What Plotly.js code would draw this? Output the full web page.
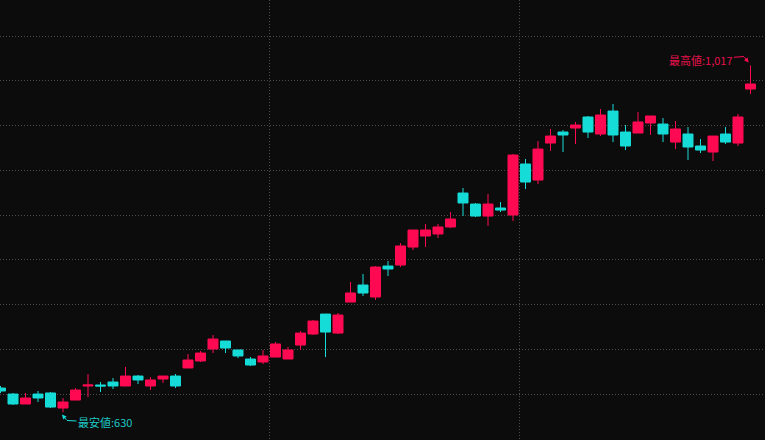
<!DOCTYPE html>
<html>
<head>
<meta charset="utf-8">
<script src="https://cdn.plot.ly/plotly-3.0.1.min.js"></script>
<style>
  html, body { margin: 0; padding: 0; background: #0c0c0c; }
  #chart { width: 765px; height: 440px; }
</style>
</head>
<body>
<div id="chart"></div>
<script>
// ---- data ----
const openP  = [657.0, 650.3, 639.2, 650.3, 651.5, 634.7, 643.6, 659.3, 660.4, 663.7,
                659.3, 670.4, 659.3, 667.1, 670.4, 679.4, 687.2, 700.6, 709.5, 699.5,
                689.4, 686.1, 691.6, 689.4, 705.0, 717.3, 739.6, 718.4, 753.0, 772.0,
                758.6, 793.2, 794.3, 814.4, 826.7, 829.0, 836.8, 874.7, 862.4, 849.0,
                858.0, 850.2, 907.1, 889.2, 930.5, 942.8, 947.3, 959.6, 940.6, 966.2,
                942.8, 941.7, 952.9, 951.7, 931.6, 940.6, 927.2, 920.5, 940.6, 930.5,
                990.8];
const highP  = [659.3, 651.5, 651.5, 653.7, 652.6, 645.9, 657.0, 672.7, 663.7, 668.2,
                680.5, 671.5, 669.3, 670.4, 672.7, 695.0, 698.3, 716.2, 709.5, 699.5,
                691.6, 699.5, 708.4, 702.8, 720.7, 732.9, 739.6, 740.8, 775.4, 784.3,
                793.2, 798.8, 818.9, 833.4, 840.1, 840.1, 853.5, 880.3, 863.6, 873.6,
                864.7, 918.3, 912.7, 932.8, 946.2, 945.0, 954.0, 960.7, 968.5, 974.1,
                950.6, 965.1, 960.7, 958.4, 955.1, 948.4, 935.0, 938.3, 948.4, 962.9,
                1017];
const lowP   = [651.5, 638.1, 639.2, 641.4, 634.7, 630, 643.6, 647.0, 652.6, 655.9,
                659.3, 661.5, 654.8, 662.6, 657.0, 679.4, 686.1, 696.1, 696.1, 690.5,
                681.6, 683.8, 691.6, 689.4, 699.5, 716.2, 691.6, 717.3, 753.0, 759.7,
                755.3, 782.1, 792.1, 811.1, 814.4, 824.5, 835.6, 849.0, 847.9, 837.9,
                853.5, 843.5, 879.2, 884.8, 921.6, 920.5, 929.4, 936.1, 938.3, 931.6,
                922.7, 941.7, 939.5, 931.6, 923.8, 911.6, 919.4, 910.4, 929.4, 927.2,
                985.2];
const closeP = [653.7, 639.2, 645.9, 645.9, 635.8, 641.4, 654.8, 660.4, 659.3, 659.3,
                670.4, 666.0, 666.0, 670.4, 659.3, 688.3, 696.1, 711.7, 701.7, 692.8,
                682.7, 692.8, 706.2, 699.5, 718.4, 731.8, 719.5, 738.5, 763.1, 763.1,
                792.1, 789.9, 815.6, 833.4, 833.4, 836.8, 845.7, 863.6, 849.0, 862.4,
                855.7, 917.1, 887.0, 923.8, 938.3, 939.5, 950.6, 942.8, 961.8, 939.5,
                927.2, 954.0, 960.7, 940.6, 946.2, 926.1, 922.7, 938.3, 931.6, 959.6,
                996.4];
const highLabel = '最高値';
const lowLabel  = '最安値';
const dividerTicks = [21.5, 41.5];

// ---- derived ----
const xIdx = openP.map((_, i) => i);
const maxHigh = Math.max(...highP);
const maxIdx = highP.indexOf(maxHigh);
const minLow = Math.min(...lowP);
const minIdx = lowP.indexOf(minLow);
const fmt = v => String(Math.round(v)).replace(/\B(?=(\d{3})+(?!\d))/g, ',');

const RED = '#ff0a52';
const CYAN = '#16dcd8';
const GRID = '#4c4c4c';
const FONT = 'Noto Sans CJK JP, Noto Sans, sans-serif';

const trace = {
  type: 'candlestick',
  x: xIdx,
  open: openP, high: highP, low: lowP, close: closeP,
  increasing: { line: { color: RED, width: 1 }, fillcolor: RED },
  decreasing: { line: { color: CYAN, width: 1 }, fillcolor: CYAN },
  whiskerwidth: 0,
  hoverinfo: 'skip'
};

// label with a bent leader line: text -> bend (no head), bend -> tip (with head)
function bentLabel(xv, yv, text, color, textColor, bend, tip, textOff) {
  return [
    {
      x: xv, y: yv, xref: 'x', yref: 'y',
      xshift: bend[0], yshift: bend[1],
      text: text, showarrow: true,
      ax: textOff[0], ay: textOff[1],
      arrowhead: 0, arrowwidth: 1, arrowcolor: color,
      font: { family: FONT, size: 11, color: textColor }
    },
    {
      x: xv, y: yv, xref: 'x', yref: 'y',
      xshift: tip[0], yshift: tip[1],
      text: ' ', showarrow: true,
      ax: bend[0] - tip[0], ay: -(bend[1] - tip[1]),
      arrowhead: 2, arrowsize: 0.9, arrowwidth: 1, arrowcolor: color,
      borderpad: 0,
      font: { family: FONT, size: 1, color: color }
    }
  ];
}

const layout = {
  width: 765, height: 440,
  margin: { l: 0, r: 0, t: 0, b: 0, pad: 0 },
  paper_bgcolor: '#0c0c0c',
  plot_bgcolor: '#0c0c0c',
  showlegend: false,
  hovermode: false,
  boxgap: 0.2,
  boxgroupgap: 0,
  xaxis: {
    range: [-0.04, 61.16],
    tickvals: dividerTicks,
    showticklabels: false,
    showgrid: true, gridcolor: GRID, griddash: '1px,2px', gridwidth: 1,
    zeroline: false, showline: false, ticks: '',
    rangeslider: { visible: false }
  },
  yaxis: {
    range: [599, 1090.2],
    dtick: 50, tick0: 0,
    showticklabels: false,
    showgrid: true, gridcolor: GRID, griddash: '1px,2px', gridwidth: 1,
    zeroline: false, showline: false, ticks: ''
  },
  annotations: [
    ...bentLabel(maxIdx, maxHigh, highLabel + ':' + fmt(maxHigh), RED, '#e8114d',
                 [-6.5, 9], [-2, 3], [-43.5, 3]),
    ...bentLabel(minIdx, minLow, lowLabel + ':' + fmt(minLow), CYAN, '#1ec9c6',
                 [4, -8.3], [-1, -2.3], [38, 1.7])
  ]
};

Plotly.newPlot('chart', [trace], layout, { displayModeBar: false, staticPlot: true });
</script>
</body>
</html>
